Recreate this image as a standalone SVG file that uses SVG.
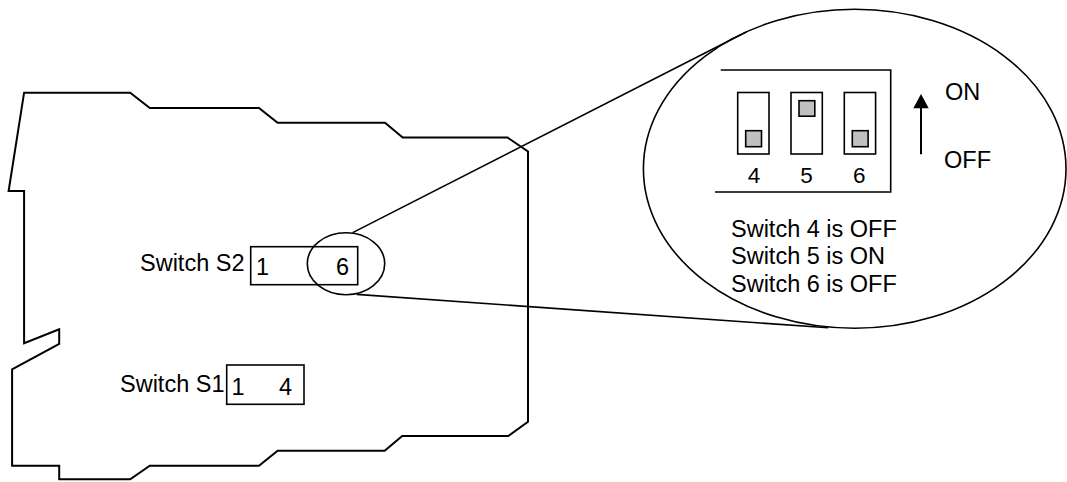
<svg xmlns="http://www.w3.org/2000/svg" width="1067" height="482" viewBox="0 0 1067 482">
<style>
  text { font-family: "Liberation Sans", Arial, sans-serif; fill: #000; }
  .lbl { font-size: 23.5px; }
  .dig { font-size: 22.5px; }
  .ln { fill: none; stroke: #000; stroke-width: 1.6; }
  .board { fill: none; stroke: #000; stroke-width: 2; stroke-linejoin: miter; }
  .knob { fill: #c0c0c0; stroke: #000; stroke-width: 1.6; }
</style>
<rect width="1067" height="482" fill="#fff"/>

<g id="board">
  <path class="board" d="M24.1,92.7 L130.2,92.7 L149.8,108 L259,108 L277.6,122.7 L385,122.7 L402.7,137.5 L507.5,137.5 L528,151.5 L528,421.7 L508.3,436 L402.2,436 L384.7,450.7 L277.6,450.7 L259,465.7 L149.8,465.7 L130.2,479.3 L59.2,479.3 L59.2,465.7 L12.1,465.7 L12.1,369.3 L59.2,344 L59.2,329.3 L24.1,343.3 L24.1,191 L8.6,191 Z"/>
</g>

<g id="switch-s2">
  <text class="lbl" x="140" y="270.5">Switch S2</text>
  <rect class="ln" x="250.7" y="246.7" width="107" height="38"/>
  <text class="lbl" x="256" y="275">1</text>
  <text class="lbl" x="336" y="275">6</text>
</g>

<g id="switch-s1">
  <text class="lbl" x="120" y="392">Switch S1</text>
  <rect class="ln" x="226.7" y="365" width="77.3" height="39.3"/>
  <text class="lbl" x="231.5" y="394.5">1</text>
  <text class="lbl" x="279" y="394.5">4</text>
</g>

<g id="focus-ring">
  <ellipse class="ln" cx="346" cy="263.7" rx="38.7" ry="31"/>
</g>

<g id="connectors">
  <line class="ln" x1="352.7" y1="232.6" x2="746.7" y2="31.7"/>
  <line class="ln" x1="356.7" y1="294.4" x2="828.3" y2="327.8"/>
</g>

<g id="magnified">
  <ellipse class="ln" cx="854.7" cy="168.8" rx="211.3" ry="159.5"/>
  <path class="ln" d="M720.7,70 L890.7,70 L890.7,192 L715,192"/>
  <rect class="ln" x="737.7" y="92.5" width="31.3" height="61.5"/>
  <rect class="ln" x="791" y="92.5" width="31.3" height="61.5"/>
  <rect class="ln" x="844.3" y="92.5" width="31.3" height="61.5"/>
  <rect class="knob" x="745.7" y="130.7" width="15.8" height="16"/>
  <rect class="knob" x="799" y="100.7" width="15.8" height="15.5"/>
  <rect class="knob" x="852.3" y="130.7" width="15.8" height="16"/>
  <text class="dig" x="754" y="183.3" text-anchor="middle">4</text>
  <text class="dig" x="806.5" y="183.3" text-anchor="middle">5</text>
  <text class="dig" x="859.3" y="183.3" text-anchor="middle">6</text>
  <line x1="921" y1="154.3" x2="921" y2="106" stroke="#000" stroke-width="2"/>
  <polygon points="921,94 913.3,108.3 928.7,108.3" fill="#000"/>
  <text class="lbl" x="945" y="99.5">ON</text>
  <text class="lbl" x="944" y="168.3">OFF</text>
  <text class="lbl" x="731" y="236.7">Switch 4 is OFF</text>
  <text class="lbl" x="731" y="264.3">Switch 5 is ON</text>
  <text class="lbl" x="731" y="291.7">Switch 6 is OFF</text>
</g>
</svg>
